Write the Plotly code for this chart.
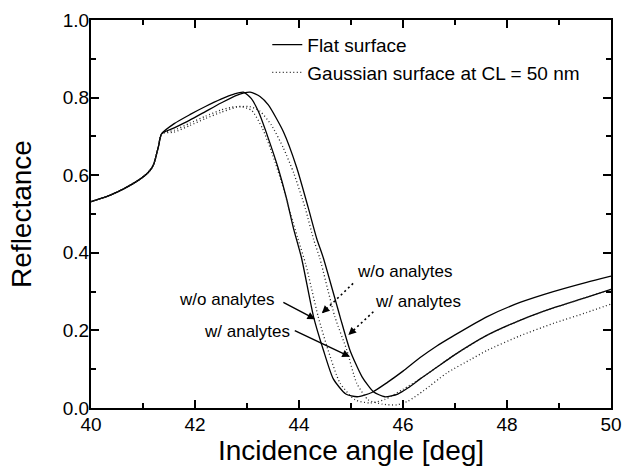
import plotly.graph_objects as go

# ---------------- data ----------------
# Flat surface, without analytes
flat_wo_x = [40.0, 40.3, 40.6, 40.9, 41.1, 41.2, 41.29, 41.36, 41.6, 41.9, 42.2, 42.5, 42.75, 42.93,
             43.08, 43.22, 43.41, 43.6, 43.76, 43.89, 44.05, 44.28, 44.47, 44.66, 44.9, 45.12, 45.4,
             45.7, 46.0, 46.33, 46.65, 46.97, 47.61, 48.25, 48.89, 49.53, 50.0]
flat_wo_y = [0.532, 0.545, 0.563, 0.586, 0.607, 0.626, 0.670, 0.707, 0.733, 0.756, 0.777, 0.796, 0.809, 0.814,
             0.798, 0.764, 0.695, 0.618, 0.540, 0.465, 0.386, 0.235, 0.149, 0.075, 0.036, 0.029, 0.040,
             0.066, 0.095, 0.130, 0.160, 0.186, 0.235, 0.272, 0.300, 0.324, 0.340]

# Flat surface, with analytes
flat_w_x = [40.0, 40.3, 40.6, 40.9, 41.1, 41.2, 41.29, 41.36, 41.6, 41.9, 42.2, 42.5, 42.8, 43.06,
            43.25, 43.41, 43.7, 43.96, 44.18, 44.34, 44.47, 44.79, 44.98, 45.21, 45.43, 45.65, 45.9,
            46.1, 46.33, 46.65, 46.97, 47.61, 48.25, 48.89, 49.53, 50.0]
flat_w_y = [0.532, 0.545, 0.563, 0.586, 0.607, 0.626, 0.670, 0.707, 0.722, 0.742, 0.764, 0.786, 0.806, 0.814,
            0.803, 0.781, 0.712, 0.618, 0.515, 0.437, 0.386, 0.235, 0.149, 0.081, 0.042, 0.029, 0.036,
            0.052, 0.075, 0.105, 0.135, 0.187, 0.226, 0.258, 0.285, 0.306]

# Gaussian surface (CL = 50 nm), without analytes
gauss_wo_x = [40.0, 40.3, 40.6, 40.9, 41.1, 41.2, 41.29, 41.36, 41.6, 41.9, 42.2, 42.5, 42.7, 42.88,
              43.09, 43.3, 43.5, 43.68, 43.84, 43.97, 44.13, 44.37, 44.56, 44.79, 45.08, 45.37, 45.65,
              46.0, 46.33, 46.65, 46.97, 47.61, 48.25, 48.89, 49.53, 50.0]
gauss_wo_y = [0.532, 0.545, 0.563, 0.586, 0.607, 0.626, 0.670, 0.707, 0.716, 0.734, 0.752, 0.768, 0.775, 0.777,
              0.767, 0.720, 0.650, 0.575, 0.500, 0.440, 0.370, 0.235, 0.149, 0.064, 0.021, 0.013, 0.022,
              0.048, 0.075, 0.105, 0.135, 0.187, 0.226, 0.258, 0.285, 0.306]

# Gaussian surface (CL = 50 nm), with analytes
gauss_w_x = [40.0, 40.3, 40.6, 40.9, 41.1, 41.2, 41.29, 41.36, 41.6, 41.9, 42.2, 42.5, 42.8, 43.05,
             43.25, 43.47, 43.7, 43.9, 44.12, 44.28, 44.4, 44.69, 44.92, 45.11, 45.33, 45.6, 45.88,
             46.1, 46.4, 46.84, 47.3, 47.61, 48.25, 48.89, 49.53, 50.0]
gauss_w_y = [0.532, 0.545, 0.563, 0.586, 0.607, 0.626, 0.670, 0.707, 0.711, 0.728, 0.746, 0.762, 0.775, 0.777,
             0.765, 0.729, 0.670, 0.605, 0.515, 0.435, 0.386, 0.235, 0.149, 0.064, 0.021, 0.010, 0.008,
             0.018, 0.045, 0.090, 0.125, 0.148, 0.186, 0.218, 0.246, 0.268]

series_names = ["Flat surface", "Gaussian surface at CL = 50 nm"]

x_ticks = [40, 42, 44, 46, 48, 50]
y_ticks = [0.0, 0.2, 0.4, 0.6, 0.8, 1.0]

# annotation labels
label_texts = ["w/o analytes", "w/ analytes", "w/o analytes", "w/ analytes"]
label_x = [43.57, 43.86, 45.08, 45.42]
label_y = [0.280, 0.197, 0.351, 0.274]
label_anchor = ["right", "right", "left", "left"]
# arrows: tail -> head
arrow_tail_x = [43.67, 43.89, 45.04, 45.43]
arrow_tail_y = [0.274, 0.201, 0.321, 0.248]
arrow_head_x = [44.31, 44.98, 44.44, 44.95]
arrow_head_y = [0.229, 0.132, 0.244, 0.188]
arrow_dotted = [False, False, True, True]

# ---------------- figure ----------------
fig = go.Figure()
solid = dict(color="black", width=1.3, shape="spline", smoothing=0.6)
dotted = dict(color="#222222", width=1.3, dash="1px,2.5px", shape="spline", smoothing=0.6)

fig.add_trace(go.Scatter(x=flat_wo_x, y=flat_wo_y, mode="lines", line=solid,
                         name=series_names[0], legendgroup="flat", showlegend=True))
fig.add_trace(go.Scatter(x=flat_w_x, y=flat_w_y, mode="lines", line=solid,
                         name=series_names[0], legendgroup="flat", showlegend=False))
fig.add_trace(go.Scatter(x=gauss_wo_x, y=gauss_wo_y, mode="lines", line=dotted,
                         name=series_names[1], legendgroup="gauss", showlegend=True))
fig.add_trace(go.Scatter(x=gauss_w_x, y=gauss_w_y, mode="lines", line=dotted,
                         name=series_names[1], legendgroup="gauss", showlegend=False))

annotations = []
shapes = []
for t, tx, ty, anc in zip(label_texts, label_x, label_y, label_anchor):
    annotations.append(dict(x=tx, y=ty, xref="x", yref="y", text=t, showarrow=False,
                            xanchor=anc, yanchor="middle", font=dict(size=17, color="black")))
for x0, y0, x1, y1, dot in zip(arrow_tail_x, arrow_tail_y, arrow_head_x, arrow_head_y, arrow_dotted):
    if not dot:
        annotations.append(dict(x=x1, y=y1, ax=x0, ay=y0, xref="x", yref="y", axref="x", ayref="y",
                                text="", showarrow=True, arrowhead=2, arrowsize=1.1, arrowwidth=1.4,
                                arrowcolor="black"))
    else:
        shapes.append(dict(type="line", xref="x", yref="y", x0=x0, y0=y0, x1=x1, y1=y1,
                           line=dict(color="black", width=1.6, dash="2px,3px")))
        annotations.append(dict(x=x1, y=y1, ax=x1 + 0.15 * (x0 - x1), ay=y1 + 0.15 * (y0 - y1),
                                xref="x", yref="y", axref="x", ayref="y",
                                text="", showarrow=True, arrowhead=2, arrowsize=1.1, arrowwidth=1.4,
                                arrowcolor="black"))

fig.update_layout(
    width=623, height=470,
    margin=dict(l=91, r=12, t=20, b=62),
    plot_bgcolor="white", paper_bgcolor="white",
    font=dict(family="Liberation Sans, Arial, sans-serif", color="black", size=19),
    showlegend=True,
    legend=dict(x=0.339, y=0.985, xanchor="left", yanchor="top", bgcolor="rgba(0,0,0,0)",
                font=dict(size=19), tracegroupgap=0, itemwidth=30),
    annotations=annotations,
    shapes=shapes,
)
axis_common = dict(
    showline=True, linewidth=2, linecolor="black", mirror="allticks",
    ticks="inside", ticklen=8, tickwidth=1.5, tickcolor="black",
    showgrid=False, zeroline=False, tickfont=dict(size=19), automargin=False,
)
fig.update_xaxes(range=[40, 50], tickvals=x_ticks, ticktext=[str(v) for v in x_ticks],
                 minor=dict(ticks="inside", ticklen=5, dtick=1, tickwidth=1.5, tickcolor="black", showgrid=False),
                 title=dict(text="Incidence angle [deg]", font=dict(size=28), standoff=4),
                 ticklabelstandoff=-2,
                 **axis_common)
fig.update_yaxes(range=[0, 1], tickvals=y_ticks, ticktext=[f"{v:.1f}" for v in y_ticks],
                 minor=dict(ticks="inside", ticklen=5, dtick=0.1, tickwidth=1.5, tickcolor="black", showgrid=False),
                 title=dict(text="Reflectance", font=dict(size=28), standoff=23),
                 ticklabelstandoff=-4,
                 **axis_common)

fig.write_html("out.html",
               config={"displayModeBar": False},
               post_script="document.body.style.margin='0';document.body.style.overflow='hidden';")
